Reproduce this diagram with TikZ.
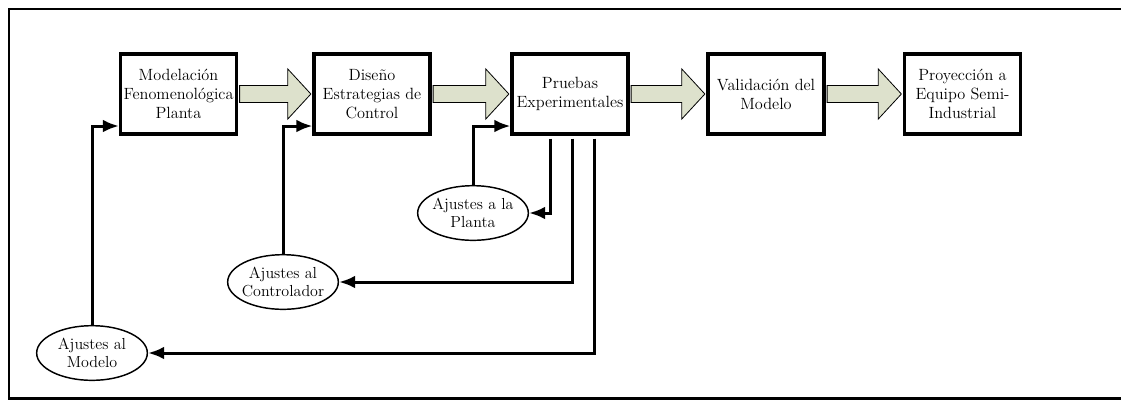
\documentclass[tikz,border=0pt]{standalone}
\usetikzlibrary{arrows.meta,calc,shapes.geometric}
\definecolor{arrowfill}{RGB}{221,225,204}

% broad block arrow joining two stages
\newcommand\fatarrow[2]{%
  \draw[fat] let \p1=(#1.east), \p2=(#2.west) in
    (\x1+1.2pt,\y1+6.4pt) -- (\x2-18.5pt,\y1+6.4pt) -- (\x2-18.5pt,\y1+18.75pt)
    -- (\x2-1.2pt,\y1) -- (\x2-18.5pt,\y1-18.75pt) -- (\x2-18.5pt,\y1-6.4pt)
    -- (\x1+1.2pt,\y1-6.4pt) -- cycle;}

\begin{document}
\begin{tikzpicture}[x=0.75pt,y=-0.75pt,
  stage/.style={draw,line width=2.3pt,minimum width=87pt,minimum height=60pt,
    align=center,inner sep=0.5pt,font=\fontsize{12.2}{14.25}\selectfont},
  adjust/.style={ellipse,draw,line width=1.1pt,minimum width=83pt,minimum height=41pt,
    inner xsep=-3pt,inner ysep=0pt,align=center,font=\fontsize{12}{13}\selectfont},
  fat/.style={draw=black,line width=0.6pt,fill=arrowfill,line join=miter},
  fb/.style={line width=2.25pt,-{Latex[length=12pt,width=9.5pt]}}]
\useasboundingbox (0,0) rectangle (1121,401);

% outer frame
\draw[line width=1.9pt] (9,9) rectangle (1140,398.5);

% main stages
\node[stage] (b1) at (178.5,94) {Modelación\\Fenomenológica\\Planta};
\node[stage] (b2) at (372,94) {Diseño\\Estrategias de\\Control};
\node[stage] (b3) at (570,94) {Pruebas\\Experimentales};
\node[stage] (b4) at (766,94) {Validación del\\Modelo};
\node[stage] (b5) at (962.5,94) {Proyección a\\Equipo Semi-\\Industrial};

\fatarrow{b1}{b2}
\fatarrow{b2}{b3}
\fatarrow{b3}{b4}
\fatarrow{b4}{b5}

% adjustment loops
\node[adjust] (pla) at (473,213) {Ajustes a la\\Planta};
\node[adjust] (ctl) at (283,282) {Ajustes al\\Controlador};
\node[adjust] (mod) at (92,353) {Ajustes al\\Modelo};

\coordinate (o1) at ($(b3.south)+(-20,3)$);
\coordinate (o2) at ($(b3.south)+(2,3)$);
\coordinate (o3) at ($(b3.south)+(24,3)$);

\draw[fb] (o1) |- (pla.east);
\draw[fb] (o2) |- (ctl.east);
\draw[fb] (o3) |- (mod.east);

\draw[fb] (pla.north) |- ($(b3.west)+(0,32)$);
\draw[fb] (ctl.north) |- ($(b2.west)+(0,32)$);
\draw[fb] (mod.north) |- ($(b1.west)+(0,32)$);
\end{tikzpicture}
\end{document}
